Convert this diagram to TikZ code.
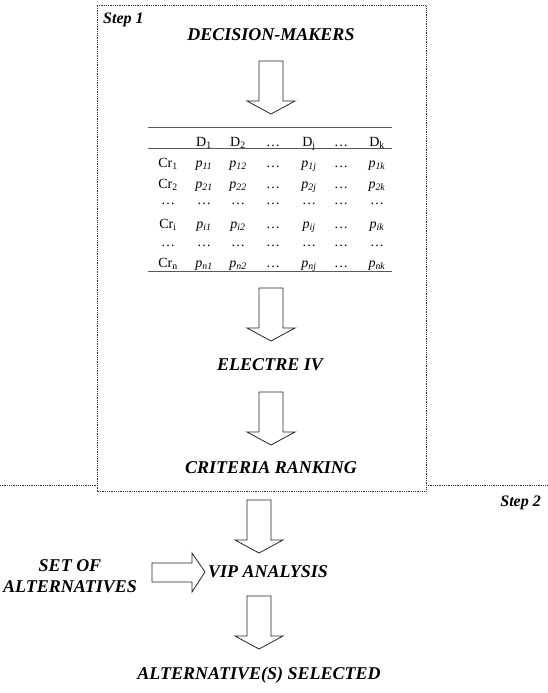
\documentclass[tikz,border=0pt]{standalone}
\usepackage{fontspec}
\setmainfont{Liberation Serif}
\newcommand\pv[1]{\textit{p}\textsubscript{\textit{#1}}}
\begin{document}
\begin{tikzpicture}[x=1pt,y=-1pt,
  lbl/.style={font=\fontsize{18}{21}\selectfont\bfseries\itshape, inner sep=0pt},
  steplbl/.style={font=\fontsize{16}{18}\selectfont\bfseries\itshape, inner sep=0pt},
  cell/.style={font=\fontsize{14}{16}\selectfont, inner sep=0pt, anchor=base},
  blk/.style={draw=black!85, line width=0.8pt, fill=white, line join=miter},
  frame/.style={draw=black!80, line width=1pt, dash pattern=on 0.9pt off 0.9pt},
  rule/.style={draw=black!65, line width=0.9pt},
  dnarrow/.pic={\path[blk] (-12,0) -- (12,0) -- (12,40) -- (24,40) -- (0,53) -- (-24,40) -- (-12,40) -- cycle;}
]
\useasboundingbox (0,0) rectangle (547,693);

% frames
\draw[frame] (0,485) -- (97,485);
\draw[frame] (426,485) -- (547,485);
\draw[frame] (97,6) rectangle (426,491);

% labels
\node[steplbl, anchor=west] (s1) at (103,20) {Step 1};
\node[steplbl, anchor=east] (s2) at (541,503) {Step 2};
\node[lbl] (dm) at (271,35) {DECISION-MAKERS};
\node[lbl] (el) at (270,365) {ELECTRE IV};
\node[lbl] (cr) at (271,468) {CRITERIA RANKING};
\node[lbl] (vip) at (268,572) {VIP ANALYSIS};
\node[lbl] (sel) at (259,675) {ALTERNATIVE(S) SELECTED};
\node[lbl, align=center] (set) at (70,576.5) {SET OF\\ALTERNATIVES};

% block arrows
\pic at (271,61) {dnarrow};
\pic at (271,288) {dnarrow};
\pic at (271,392) {dnarrow};
\pic at (259,500) {dnarrow};
\pic at (259,596) {dnarrow};
\path[blk] (152,563) -- (192,563) -- (192,553) -- (205,572) -- (192,592) -- (192,582) -- (152,582) -- cycle;

% table rules
\draw[rule] (148,127) -- (392,127);
\draw[rule] (148,148) -- (392,148);
\draw[rule] (148,271) -- (392,271);

% table cells
\foreach \t/\x [count=\c] in {D\textsubscript{1}/204, D\textsubscript{2}/238, …/273, D\textsubscript{j}/309, …/341, D\textsubscript{k}/377}
  \node[cell] (h\c) at (\x,146) {\t};
\foreach \t/\x [count=\c] in {Cr\textsubscript{1}/168, \pv{11}/204, \pv{12}/238, …/273, \pv{1j}/309, …/341, \pv{1k}/377}
  \node[cell] (a\c) at (\x,167) {\t};
\foreach \t/\x [count=\c] in {Cr\textsubscript{2}/168, \pv{21}/204, \pv{22}/238, …/273, \pv{2j}/309, …/341, \pv{2k}/377}
  \node[cell] (b\c) at (\x,188) {\t};
\foreach \x [count=\c] in {168,204,238,273,309,341,377}
  \node[cell] (c\c) at (\x,204) {…};
\foreach \t/\x [count=\c] in {Cr\textsubscript{i}/168, \pv{i1}/204, \pv{i2}/238, …/273, \pv{ij}/309, …/341, \pv{ik}/377}
  \node[cell] (d\c) at (\x,228) {\t};
\foreach \x [count=\c] in {168,204,238,273,309,341,377}
  \node[cell] (e\c) at (\x,246) {…};
\foreach \t/\x [count=\c] in {Cr\textsubscript{n}/168, \pv{n1}/204, \pv{n2}/238, …/273, \pv{nj}/309, …/341, \pv{nk}/377}
  \node[cell] (f\c) at (\x,267) {\t};
\end{tikzpicture}
\end{document}
